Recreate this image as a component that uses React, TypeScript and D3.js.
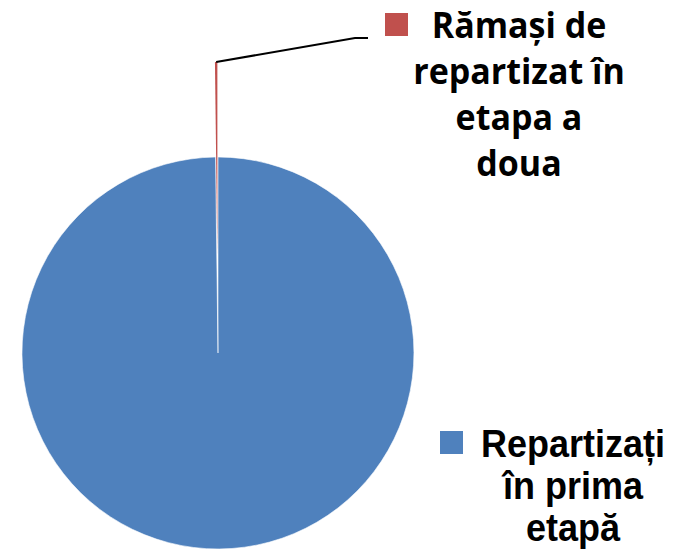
import React, { useEffect, useRef } from 'react';
import * as d3 from 'd3';

// chart data
const categories = ['Repartizați în prima etapă', 'Rămași de repartizat în etapa a doua'];
const values = [99.8, 0.2];
const colors = ['#4F81BD', '#C0504D'];
// legend text, broken in lines as in the original
const legendLines = [
  ['Repartizați', 'în prima', 'etapă'],
  ['Rămași de', 'repartizat în', 'etapa a', 'doua'],
];

const App = () => {
  const ref = useRef<SVGSVGElement>(null);

  useEffect(() => {
    const cx = 218,
      cy = 353,
      radius = 196,
      explode = 95;

    const svg = d3.select(ref.current);
    svg.selectAll('*').remove();

    const data = categories.map((c, i) => ({ name: c, value: values[i], color: colors[i] }));

    const pie = d3
      .pie<any>()
      .sort(null)
      .value((d) => d.value);
    const arcs = pie(data);
    const arc = d3.arc<any>().innerRadius(0).outerRadius(radius);

    const g = svg.append('g').attr('transform', `translate(${cx},${cy})`);

    // slices, the small one pulled out
    const offset = (d: any) => {
      if (d.index === 0) return [0, 0];
      const a = (d.startAngle + d.endAngle) / 2;
      return [Math.sin(a) * explode, -Math.cos(a) * explode];
    };

    g.selectAll('path.slice')
      .data(arcs)
      .enter()
      .append('path')
      .attr('class', 'slice')
      .attr('d', arc)
      .attr('transform', (d) => `translate(${offset(d)[0]},${offset(d)[1]})`)
      .attr('fill', (d) => d.data.color)
      .attr('stroke', '#fff')
      .attr('stroke-width', (d) => (d.index === 0 ? 0.6 : 0));

    // leader line for small slice
    const small = arcs[1];
    const a = (small.startAngle + small.endAngle) / 2;
    const [ox, oy] = offset(small);
    const px = Math.sin(a) * radius + ox;
    const py = -Math.cos(a) * radius + oy;
    svg
      .append('path')
      .attr('d', `M${cx + px},${cy + py}L355,38L368,38`)
      .attr('fill', 'none')
      .attr('stroke', '#000')
      .attr('stroke-width', 2);

    // labels
    const lbl = [
      { x: 573, y0: 457, dy: 42, sq: [440, 431], size: 36, sy: 1.08, family: 'Liberation Sans, Arial, sans-serif' },
      { x: 519, y0: 38, dy: 46, sq: [385, 13], size: 34, sy: 1.05, family: 'Open Sans, sans-serif' },
    ];
    lbl.forEach((L, i) => {
      svg
        .append('rect')
        .attr('x', L.sq[0])
        .attr('y', L.sq[1])
        .attr('width', 23)
        .attr('height', 23)
        .attr('fill', colors[i]);
      svg
        .append('g')
        .selectAll('text')
        .data(legendLines[i])
        .enter()
        .append('text')
        .attr('transform', (d, j) => `translate(${L.x},${L.y0 + j * L.dy}) scale(1,${L.sy})`)
        .attr('text-anchor', 'middle')
        .attr('font-family', L.family)
        .attr('font-weight', 'bold')
        .attr('font-size', L.size)
        .attr('fill', '#000')
        .text((d) => d);
    });
  }, []);

  return (
    <svg
      ref={ref}
      width={690}
      height={550}
      style={{ position: 'absolute', left: 0, top: 0, display: 'block' }}
    />
  );
};

export default App;
